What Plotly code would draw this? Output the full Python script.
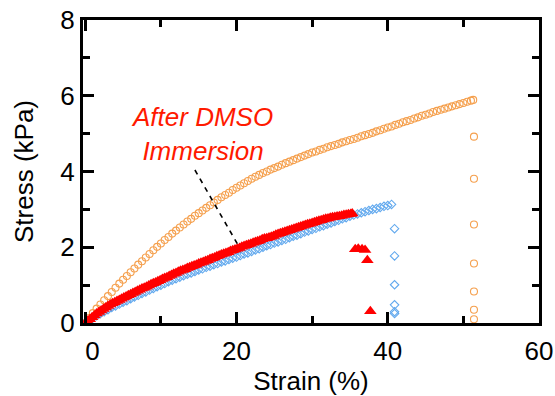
import plotly.graph_objects as go

# ---------------- data ----------------
orange_strain = [0, 0.5, 1, 1.5, 2, 2.5, 3, 3.5, 4, 4.5, 5, 5.5, 6, 6.5, 7, 7.5, 8, 8.5, 9, 9.5,
                 10, 10.5, 11, 11.5, 12, 12.5, 13, 13.5, 14, 14.5, 15, 15.5, 16, 16.5, 17, 17.5, 18, 18.5, 19, 19.5,
                 20, 20.5, 21, 21.5, 22, 22.5, 23, 23.5, 24, 24.5, 25, 25.5, 26, 26.5, 27, 27.5, 28, 28.5, 29, 29.5,
                 30, 30.5, 31, 31.5, 32, 32.5, 33, 33.5, 34, 34.5, 35, 35.5, 36, 36.5, 37, 37.5, 38, 38.5, 39, 39.5,
                 40, 40.5, 41, 41.5, 42, 42.5, 43, 43.5, 44, 44.5, 45, 45.5, 46, 46.5, 47, 47.5, 48, 48.5, 49, 49.5,
                 50, 50.5, 51, 51.3,
                 51.4, 51.4, 51.4, 51.4, 51.4, 51.4, 51.4]
orange_stress = [0, 0.13, 0.26, 0.38, 0.49, 0.60, 0.71, 0.82, 0.93, 1.04, 1.14, 1.24, 1.34, 1.44, 1.54, 1.63, 1.73, 1.82, 1.92, 2.01,
                 2.10, 2.19, 2.27, 2.36, 2.44, 2.52, 2.60, 2.68, 2.75, 2.83, 2.90, 2.97, 3.04, 3.11, 3.18, 3.25, 3.32, 3.38, 3.44, 3.51,
                 3.57, 3.63, 3.69, 3.75, 3.81, 3.86, 3.91, 3.96, 4.00, 4.05, 4.09, 4.13, 4.18, 4.22, 4.26, 4.30, 4.34, 4.38, 4.42, 4.46,
                 4.50, 4.53, 4.57, 4.60, 4.64, 4.67, 4.70, 4.73, 4.77, 4.80, 4.83, 4.86, 4.89, 4.93, 4.96, 4.99, 5.02, 5.06, 5.09, 5.13,
                 5.16, 5.19, 5.23, 5.26, 5.30, 5.33, 5.36, 5.40, 5.43, 5.47, 5.50, 5.53, 5.57, 5.60, 5.63, 5.66, 5.69, 5.72, 5.75, 5.78,
                 5.81, 5.84, 5.87, 5.89,
                 4.92, 3.81, 2.60, 1.57, 0.83, 0.35, 0.10]

blue_strain = [0, 0.5, 1, 1.5, 2, 2.5, 3, 3.5, 4, 4.5, 5, 5.5, 6, 6.5, 7, 7.5, 8, 8.5, 9, 9.5,
               10, 10.5, 11, 11.5, 12, 12.5, 13, 13.5, 14, 14.5, 15, 15.5, 16, 16.5, 17, 17.5, 18, 18.5, 19, 19.5,
               20, 20.5, 21, 21.5, 22, 22.5, 23, 23.5, 24, 24.5, 25, 25.5, 26, 26.5, 27, 27.5, 28, 28.5, 29, 29.5,
               30, 30.5, 31, 31.5, 32, 32.5, 33, 33.5, 34, 34.5, 35, 35.5, 36, 36.5, 37, 37.5, 38, 38.5, 39, 39.5,
               40, 40.5,
               40.9, 40.9, 40.9, 40.9, 40.9, 40.9]
blue_stress = [0, 0.07, 0.13, 0.19, 0.25, 0.30, 0.35, 0.41, 0.45, 0.50, 0.55, 0.59, 0.64, 0.69, 0.73, 0.78, 0.82, 0.87, 0.91, 0.96,
               1.00, 1.04, 1.09, 1.13, 1.17, 1.21, 1.25, 1.29, 1.32, 1.36, 1.40, 1.43, 1.47, 1.50, 1.54, 1.57, 1.61, 1.64, 1.68, 1.71,
               1.74, 1.78, 1.82, 1.85, 1.89, 1.93, 1.96, 2.00, 2.04, 2.07, 2.11, 2.14, 2.18, 2.21, 2.25, 2.29, 2.32, 2.36, 2.40, 2.43,
               2.47, 2.50, 2.54, 2.57, 2.61, 2.64, 2.68, 2.71, 2.75, 2.78, 2.82, 2.85, 2.88, 2.91, 2.94, 2.97, 3.00, 3.02, 3.05, 3.08,
               3.10, 3.13,
               2.49, 1.77, 1.01, 0.48, 0.30, 0.25]

red_strain = [0, 0.3, 0.6, 0.9, 1.2, 1.5, 1.8, 2.1, 2.4, 2.7, 3.0, 3.3, 3.6, 3.9, 4.2, 4.5, 4.8, 5.1, 5.4, 5.7,
              6.0, 6.3, 6.6, 6.9, 7.2, 7.5, 7.8, 8.1, 8.4, 8.7, 9.0, 9.3, 9.6, 9.9, 10.2, 10.5, 10.8, 11.1, 11.4, 11.7,
              12.0, 12.3, 12.6, 12.9, 13.2, 13.5, 13.8, 14.1, 14.4, 14.7, 15.0, 15.3, 15.6, 15.9, 16.2, 16.5, 16.8, 17.1, 17.4, 17.7,
              18.0, 18.3, 18.6, 18.9, 19.2, 19.5, 19.8, 20.1, 20.4, 20.7, 21.0, 21.3, 21.6, 21.9, 22.2, 22.5, 22.8, 23.1, 23.4, 23.7,
              24.0, 24.3, 24.6, 24.9, 25.2, 25.5, 25.8, 26.1, 26.4, 26.7, 27.0, 27.3, 27.6, 27.9, 28.2, 28.5, 28.8, 29.1, 29.4, 29.7,
              30.0, 30.3, 30.6, 30.9, 31.2, 31.5, 31.8, 32.1, 32.4, 32.7, 33.0, 33.3, 33.6, 33.9, 34.2, 34.5, 34.8, 35.1, 35.3,
              35.7, 36.1, 36.6, 37.0, 37.3, 37.7]
red_stress = [0, 0.05, 0.10, 0.15, 0.20, 0.25, 0.29, 0.33, 0.37, 0.41, 0.45, 0.49, 0.52, 0.55, 0.58, 0.61, 0.64, 0.67, 0.70, 0.73,
              0.76, 0.79, 0.82, 0.85, 0.88, 0.91, 0.93, 0.96, 0.99, 1.02, 1.05, 1.07, 1.10, 1.13, 1.16, 1.19, 1.21, 1.24, 1.27, 1.30,
              1.32, 1.35, 1.38, 1.40, 1.42, 1.45, 1.47, 1.50, 1.52, 1.54, 1.57, 1.59, 1.61, 1.64, 1.66, 1.69, 1.71, 1.73, 1.76, 1.78,
              1.81, 1.83, 1.85, 1.87, 1.90, 1.92, 1.94, 1.96, 1.98, 2.01, 2.03, 2.05, 2.07, 2.09, 2.12, 2.14, 2.16, 2.18, 2.21, 2.23,
              2.24, 2.26, 2.28, 2.30, 2.33, 2.35, 2.37, 2.39, 2.41, 2.43, 2.45, 2.47, 2.49, 2.51, 2.53, 2.55, 2.57, 2.59, 2.61, 2.62,
              2.64, 2.66, 2.68, 2.70, 2.71, 2.73, 2.75, 2.76, 2.78, 2.79, 2.80, 2.81, 2.82, 2.83, 2.85, 2.86, 2.87, 2.88, 2.89,
              1.95, 1.96, 1.95, 1.93, 1.66, 0.31]

x_ticks = [0, 20, 40, 60]
x_tick_labels = ["\u00a0\u00a00", "20", "40", "60"]
y_ticks = [0, 2, 4, 6, 8]
annotation_text = "After DMSO<br>Immersion"
pointer_x = [14.5, 20.2]
pointer_y = [4.04, 2.06]
annotation_pos = (15.4, 5.0)

# ---------------- figure ----------------
FONT = "Liberation Sans, Arial, sans-serif"
FS = 26
fig = go.Figure()

fig.add_trace(go.Scatter(x=orange_strain, y=orange_stress, mode="markers",
                         marker=dict(symbol="circle-open", size=7, color="#F5A04E",
                                     line=dict(width=1.1, color="#F5A04E")),
                         showlegend=False))
fig.add_trace(go.Scatter(x=blue_strain, y=blue_stress, mode="markers",
                         marker=dict(symbol="diamond-open", size=6.5, color="#62A9EE",
                                     line=dict(width=1.1, color="#62A9EE")),
                         showlegend=False))
fig.add_trace(go.Scatter(x=red_strain, y=red_stress, mode="markers",
                         marker=dict(symbol="triangle-up", size=11, color="#FF0000",
                                     line=dict(width=0)),
                         showlegend=False))
fig.add_trace(go.Scatter(x=pointer_x, y=pointer_y, mode="lines",
                         line=dict(color="black", width=1.6, dash="5px,5px"),
                         showlegend=False, hoverinfo="skip"))

fig.add_annotation(x=annotation_pos[0], y=annotation_pos[1], text="<i>" + annotation_text + "</i>",
                   showarrow=False, xanchor="center", yanchor="middle",
                   font=dict(family=FONT, size=FS, color="#FF1A00"))

axis_common = dict(showline=True, linecolor="black", linewidth=3, mirror="ticks",
                   ticks="inside", ticklen=11, tickwidth=2.5, tickcolor="black",
                   showgrid=False, zeroline=False, automargin=False, ticklabeloverflow="allow",
                   tickfont=dict(family=FONT, size=FS, color="black"))

fig.update_xaxes(range=[-0.3, 60], tickvals=x_ticks, ticktext=x_tick_labels, ticklabelstandoff=3,
                 minor=dict(ticks="inside", ticklen=7, tickwidth=2.5, tickcolor="black", dtick=10, tick0=0),
                 title=dict(text="Strain (%)", font=dict(family=FONT, size=FS, color="black"), standoff=12),
                 **axis_common)
fig.update_yaxes(range=[0, 8], tickvals=y_ticks,
                 minor=dict(ticks="inside", ticklen=7, tickwidth=2.5, tickcolor="black", dtick=1, tick0=0),
                 title=dict(text="Stress (kPa)", font=dict(family=FONT, size=FS, color="black"), standoff=20),
                 **axis_common)

fig.update_layout(width=555, height=396, margin=dict(l=83, r=16, t=20, b=73),
                  plot_bgcolor="white", paper_bgcolor="white",
                  font=dict(family=FONT, color="black"))

# remove the default 8px page margin so the figure sits at the window's corner
fig.write_html("out.html", config={"displayModeBar": False},
               post_script="document.body.style.margin='0';document.body.style.overflow='hidden';")
